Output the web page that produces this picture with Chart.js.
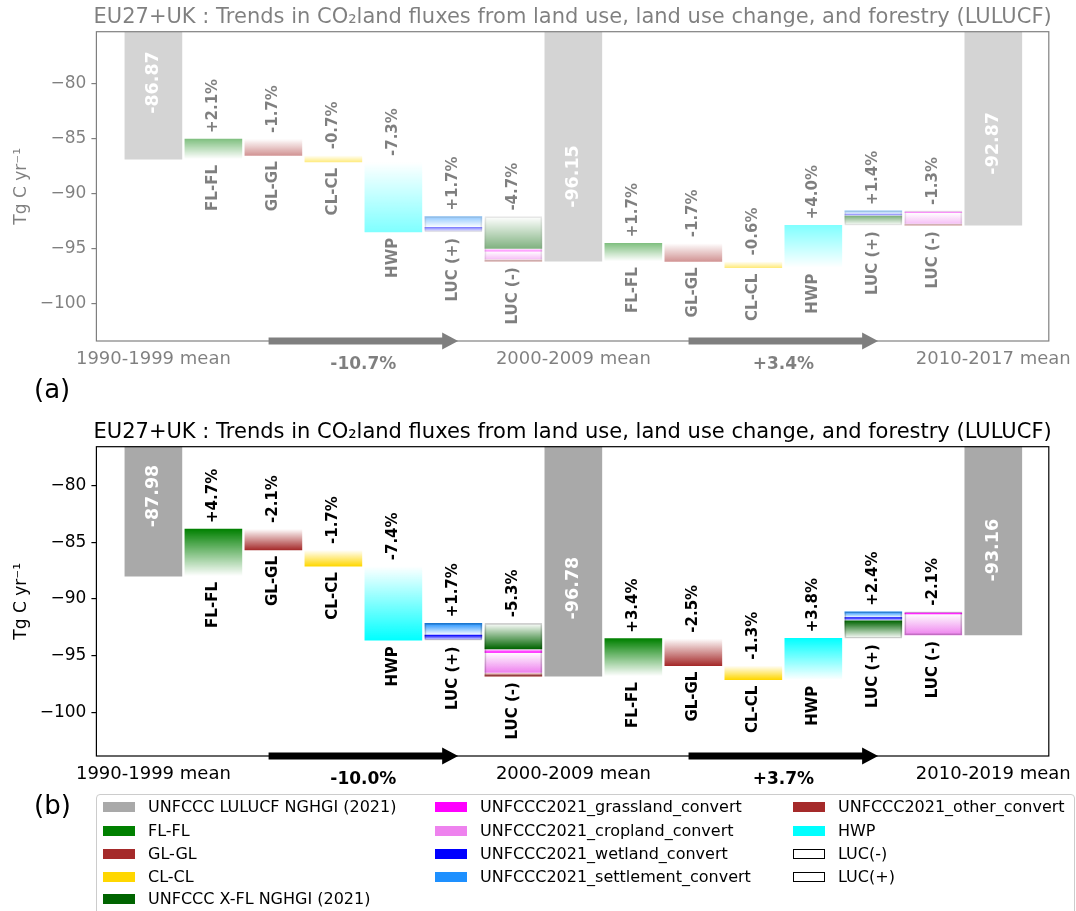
<!DOCTYPE html>
<html>
<head>
<meta charset="utf-8">
<script src="https://cdn.jsdelivr.net/npm/chart.js@4.4.1/dist/chart.umd.min.js"></script>
<style>
  body { margin: 0; background: #fff; width: 1076px; height: 911px; overflow: hidden; position: relative; font-family: 'DejaVu Sans', sans-serif; }
  .wrap { position: absolute; left: 0; width: 1076px; height: 380px; }
  #wrapA { top: 0; opacity: 0.5; }
  #wrapB { top: 415px; }
  .tag { position: absolute; left: 34px; font-size: 26px; line-height: 30px; }
  #legend { position: absolute; left: 96px; top: 794px; width: 979px; height: 130px; border: 1px solid #ccc; border-radius: 4px; box-sizing: border-box; }
  .item { position: absolute; font-size: 16px; line-height: 18px; white-space: nowrap; }
  .sw { display: inline-block; width: 32px; height: 10px; vertical-align: 0px; margin-right: 13px; box-sizing: border-box; }
</style>
</head>
<body>
<div class="wrap" id="wrapA"><canvas id="chartA"></canvas></div>
<div class="tag" style="top:374px">(a)</div>
<div class="wrap" id="wrapB"><canvas id="chartB"></canvas></div>
<div class="tag" style="top:790px">(b)</div>
<div id="legend"></div>
<script>
//shared labels
const titleText = 'EU27+UK : Trends in CO\u2082land fluxes from land use, land use change, and forestry (LULUCF)'
const stepNames = ['FL-FL', 'GL-GL', 'CL-CL', 'HWP', 'LUC (+)', 'LUC (-)']
const yTicks = [-100, -95, -90, -85, -80]
const meanPos = [0, 7, 14]

//panel (a) data - rows are [position, start, end]
const periodsA = ['1990-1999 mean', '2000-2009 mean', '2010-2017 mean']
const meanA = [-86.87, -96.15, -92.87]
const pctA = ['+2.1%', '-1.7%', '-0.7%', '-7.3%', '+1.7%', '-4.7%', '+1.7%', '-1.7%', '-0.6%', '+4.0%', '+1.4%', '-1.3%']
const trendA = ['-10.7%', '+3.4%']
const flflA = [[1, -86.87, -85.05], [8, -96.15, -94.52]]
const glglA = [[2, -85.05, -86.53], [9, -94.52, -96.17]]
const clclA = [[3, -86.53, -87.14], [10, -96.17, -96.73]]
const hwpA = [[4, -87.14, -93.48], [11, -96.73, -92.88]]
const xflA = [[6, -92.1, -95.0], [12, -92.88, -92.06]]
const grassA = [[6, -95.0, -95.25], [13, -91.58, -91.75]]
const cropA = [[6, -95.25, -95.95], [13, -91.75, -92.72]]
const wetA = [[5, -93.48, -93.08], [12, -92.06, -91.86]]
const settleA = [[5, -93.08, -92.1], [12, -91.86, -91.58]]
const otherA = [[6, -95.95, -96.15], [13, -92.72, -92.87]]
const lucPlusA = [[5, -93.48, -92.1], [12, -92.88, -91.58]]
const lucMinusA = [[6, -92.1, -96.15], [13, -91.58, -92.87]]

//panel (b) data
const periodsB = ['1990-1999 mean', '2000-2009 mean', '2010-2019 mean']
const meanB = [-87.98, -96.78, -93.16]
const pctB = ['+4.7%', '-2.1%', '-1.7%', '-7.4%', '+1.7%', '-5.3%', '+3.4%', '-2.5%', '-1.3%', '+3.8%', '+2.4%', '-2.1%']
const trendB = ['-10.0%', '+3.7%']
const flflB = [[1, -87.98, -83.84], [8, -96.78, -93.49]]
const glglB = [[2, -83.84, -85.69], [9, -93.49, -95.86]]
const clclB = [[3, -85.69, -87.12], [10, -95.86, -97.1]]
const hwpB = [[4, -87.12, -93.63], [11, -97.1, -93.45]]
const xflB = [[6, -92.14, -94.4], [12, -93.45, -91.91]]
const grassB = [[6, -94.4, -94.7], [13, -91.12, -91.3]]
const cropB = [[6, -94.7, -96.46], [13, -91.3, -93.16]]
const wetB = [[5, -93.63, -93.17], [12, -91.91, -91.63]]
const settleB = [[5, -93.17, -92.14], [12, -91.63, -91.12]]
const otherB = [[6, -96.46, -96.78]]
const lucPlusB = [[5, -93.63, -92.14], [12, -93.45, -91.12]]
const lucMinusB = [[6, -92.14, -96.78], [13, -91.12, -93.16]]

const COL = {
    gray: '#a9a9a9', flfl: '#008000', glgl: '#a52a2a', clcl: '#ffd700', xfl: '#006400',
    grass: '#ff00ff', crop: '#ee82ee', wet: '#0000ff', settle: '#1e90ff', other: '#a52a2a', hwp: '#00ffff'
}

rgba = function(hex, a) {
    const n = parseInt(hex.slice(1), 16)
    return 'rgba(' + (n >> 16) + ',' + ((n >> 8) & 255) + ',' + (n & 255) + ',' + a + ')'
}

//gradient: transparent at the start of a step, solid at its end
fade = function(color) {
    return function(c) {
        const ch = c.chart
        if (!ch.chartArea || !c.raw || !Array.isArray(c.raw.y)) return color
        const ys = ch.scales.y
        const p0 = ys.getPixelForValue(c.raw.y[0])
        const p1 = ys.getPixelForValue(c.raw.y[1])
        if (!isFinite(p0) || !isFinite(p1) || p0 === p1) return color
        const g = ch.ctx.createLinearGradient(0, p0, 0, p1)
        g.addColorStop(0, rgba(color, 0))
        g.addColorStop(1, rgba(color, 1))
        return g
    }
}

rows = function(arr) {
    return arr.map(r => ({x: r[0], y: [r[1], r[2]]}))
}

stepSet = function(label, arr, color) {
    return {label: label, data: rows(arr), backgroundColor: fade(color), borderWidth: 0,
        grouped: false, barPercentage: 1, categoryPercentage: 1}
}

outlineSet = function(label, arr) {
    return {label: label, data: rows(arr), backgroundColor: 'rgba(0,0,0,0)', borderColor: 'rgba(0,0,0,0.18)',
        borderWidth: 1, borderSkipped: false, grouped: false, barPercentage: 1, categoryPercentage: 1}
}

//labels, arrows, frame and title
makeDeco = function(p) {
    return {
        id: 'deco',
        afterDatasetsDraw(chart) {
            const ctx = chart.ctx
            const a = chart.chartArea
            const xs = chart.scales.x
            const ys = chart.scales.y
            ctx.save()
            ctx.fillStyle = '#000'
            ctx.strokeStyle = '#000'
            ctx.lineWidth = 1.2
            ctx.strokeRect(a.left, a.top, a.right - a.left, a.bottom - a.top)

            ctx.font = '21px "DejaVu Sans"'
            ctx.textAlign = 'center'
            ctx.textBaseline = 'middle'
            ctx.fillText(titleText, (a.left + a.right) / 2, 18)

            //mean values inside grey bars
            ctx.font = 'bold 17.5px "DejaVu Sans"'
            ctx.fillStyle = '#fff'
            p.means.forEach((v, i) => {
                ctx.save()
                ctx.translate(xs.getPixelForValue(meanPos[i]), ys.getPixelForValue(v * 0.92))
                ctx.rotate(-Math.PI / 2)
                ctx.fillText(v.toFixed(2), 0, 0)
                ctx.restore()
            })

            //step names below, percentages above
            ctx.fillStyle = '#000'
            ctx.font = 'bold 15px "DejaVu Sans"'
            p.steps.forEach((arr, k) => {
                arr.forEach((r, h) => {
                    const lo = Math.min(r[1], r[2])
                    const hi = Math.max(r[1], r[2])
                    const x = xs.getPixelForValue(r[0])
                    ctx.save()
                    ctx.translate(x, ys.getPixelForValue(lo) + 6)
                    ctx.rotate(-Math.PI / 2)
                    ctx.textAlign = 'right'
                    ctx.fillText(stepNames[k], 0, 0)
                    ctx.restore()
                    ctx.save()
                    ctx.translate(x, ys.getPixelForValue(hi) - 6)
                    ctx.rotate(-Math.PI / 2)
                    ctx.textAlign = 'left'
                    ctx.fillText(p.pct[h * 6 + k], 0, 0)
                    ctx.restore()
                })
            })

            //period names under the axis
            ctx.font = '18px "DejaVu Sans"'
            ctx.textAlign = 'center'
            p.periods.forEach((t, i) => {
                ctx.fillText(t, xs.getPixelForValue(meanPos[i]), a.bottom + 18)
            })

            //trend arrows
            ctx.font = 'bold 17px "DejaVu Sans"'
            p.arrows.forEach((s, i) => {
                const x0 = xs.getPixelForValue(s[0])
                const x1 = xs.getPixelForValue(s[1])
                const y = a.bottom
                ctx.beginPath()
                ctx.moveTo(x0, y - 3.5)
                ctx.lineTo(x1 - 16, y - 3.5)
                ctx.lineTo(x1 - 16, y - 8.5)
                ctx.lineTo(x1, y)
                ctx.lineTo(x1 - 16, y + 8.5)
                ctx.lineTo(x1 - 16, y + 3.5)
                ctx.lineTo(x0, y + 3.5)
                ctx.closePath()
                ctx.fill()
                ctx.fillText(p.trend[i], (x0 + x1) / 2, y + 24)
            })
            ctx.restore()
        }
    }
}

makeChart = function(id, p) {
    const datasets = [
        outlineSet('LUC(-)', p.lucMinus),
        outlineSet('LUC(+)', p.lucPlus),
        {label: 'UNFCCC LULUCF NGHGI (2021)', data: p.means.map((v, i) => ({x: meanPos[i], y: v})),
            backgroundColor: COL.gray, borderWidth: 0, clip: 0, grouped: false, barPercentage: 1, categoryPercentage: 1},
        stepSet('FL-FL', p.flfl, COL.flfl),
        stepSet('GL-GL', p.glgl, COL.glgl),
        stepSet('CL-CL', p.clcl, COL.clcl),
        stepSet('HWP', p.hwp, COL.hwp),
        stepSet('UNFCCC X-FL NGHGI (2021)', p.xfl, COL.xfl),
        stepSet('UNFCCC2021_grassland_convert', p.grass, COL.grass),
        stepSet('UNFCCC2021_cropland_convert', p.crop, COL.crop),
        stepSet('UNFCCC2021_wetland_convert', p.wet, COL.wet),
        stepSet('UNFCCC2021_settlement_convert', p.settle, COL.settle),
        stepSet('UNFCCC2021_other_convert', p.other, COL.other)
    ]
    return new Chart(document.getElementById(id), {
        type: 'bar',
        data: {datasets: datasets},
        options: {
            responsive: true,
            maintainAspectRatio: false,
            animation: false,
            layout: {padding: {left: 0, right: 27.2, top: 31.7, bottom: 39}},
            plugins: {legend: {display: false}, tooltip: {enabled: false}, title: {display: false}},
            scales: {
                x: {type: 'linear', display: false, offset: false, min: -0.95, max: 14.925},
                y: {
                    min: p.ymin, max: p.ymax,
                    afterBuildTicks: s => { s.ticks = yTicks.map(v => ({value: v})) },
                    afterFit: s => { s.width = 96.4 },
                    grid: {display: true, drawOnChartArea: false, drawTicks: true, tickLength: 5, color: '#000', lineWidth: 1.2},
                    border: {display: false},
                    ticks: {color: '#000', padding: 5, font: {family: 'DejaVu Sans', size: 17},
                        callback: v => '\u2212' + Math.abs(v)},
                    title: {display: true, text: 'Tg C yr\u207B\u00B9', color: '#000',
                        font: {family: 'DejaVu Sans', size: 17}, padding: {top: 11, bottom: 0}}
                }
            }
        },
        plugins: [makeDeco(p)]
    })
}

const ChartA = makeChart('chartA', {
    ymin: -103.4, ymax: -75.3, means: meanA, periods: periodsA, pct: pctA, trend: trendA,
    flfl: flflA, glgl: glglA, clcl: clclA, hwp: hwpA, xfl: xflA, grass: grassA, crop: cropA,
    wet: wetA, settle: settleA, other: otherA, lucPlus: lucPlusA, lucMinus: lucMinusA,
    steps: [flflA, glglA, clclA, hwpA, lucPlusA, lucMinusA],
    arrows: [[1.92, 5.08], [8.92, 12.08]]
})

const ChartB = makeChart('chartB', {
    ymin: -103.81, ymax: -76.6, means: meanB, periods: periodsB, pct: pctB, trend: trendB,
    flfl: flflB, glgl: glglB, clcl: clclB, hwp: hwpB, xfl: xflB, grass: grassB, crop: cropB,
    wet: wetB, settle: settleB, other: otherB, lucPlus: lucPlusB, lucMinus: lucMinusB,
    steps: [flflB, glglB, clclB, hwpB, lucPlusB, lucMinusB],
    arrows: [[1.92, 5.08], [8.92, 12.08]]
})

//legend (column-major, 3 columns)
const legendItems = [
    ['UNFCCC LULUCF NGHGI (2021)', COL.gray], ['FL-FL', COL.flfl], ['GL-GL', COL.glgl], ['CL-CL', COL.clcl],
    ['UNFCCC X-FL NGHGI (2021)', COL.xfl], ['UNFCCC2021_grassland_convert', COL.grass],
    ['UNFCCC2021_cropland_convert', COL.crop], ['UNFCCC2021_wetland_convert', COL.wet],
    ['UNFCCC2021_settlement_convert', COL.settle], ['UNFCCC2021_other_convert', COL.other],
    ['HWP', COL.hwp], ['LUC(-)', null], ['LUC(+)', null]
]
const colX = [6, 338, 696]
const rowY = [12, 36, 59, 82, 104]
const colStart = [0, 5, 9]
const legend = document.getElementById('legend')
legendItems.forEach((it, i) => {
    const col = i >= colStart[2] ? 2 : (i >= colStart[1] ? 1 : 0)
    const row = i - colStart[col]
    const d = document.createElement('div')
    d.className = 'item'
    d.style.left = colX[col] + 'px'
    d.style.top = (rowY[row] - 9) + 'px'
    const sw = document.createElement('span')
    sw.className = 'sw'
    if (it[1]) sw.style.background = it[1]
    else sw.style.border = '1px solid #000'
    d.appendChild(sw)
    d.appendChild(document.createTextNode(it[0]))
    legend.appendChild(d)
})
</script>
</body>
</html>
